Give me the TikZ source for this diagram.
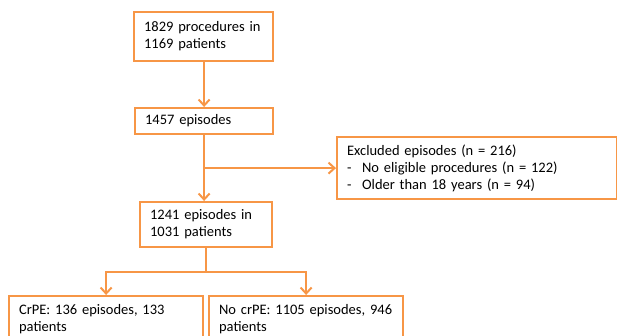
\documentclass[tikz,border=0pt]{standalone}
\usepackage{fontspec}
\setmainfont{Carlito}
\usepackage{tikz}
\usetikzlibrary{calc, positioning, arrows.meta}
\definecolor{flowOrange}{RGB}{247, 150, 70}

\tikzset{
  flowbox/.style={draw=flowOrange, line width=2.2pt, anchor=north west,
                  align=left, inner xsep=10pt, inner ysep=0pt,
                  font=\fontsize{14.5}{17}\selectfont},
  flowline/.style={draw=flowOrange, line width=2.2pt},
  flowarrow/.style={flowline, -{Straight Barb[length=6pt, width=11pt, line width=2pt]}}
}

\begin{document}
\begin{tikzpicture}[x=1pt, y=-1pt]
  % page frame
  \useasboundingbox (0,0) rectangle (617,336);
  \clip (0,0) rectangle (617,336);

  % Boxes
  \node[flowbox, text width=119pt, minimum height=49pt] (proc) at (133,11)
    {1829 procedures in\\1169 patients};
  \node[flowbox, text width=118pt, minimum height=26pt] (epis) at (134,107)
    {1457 episodes};
  \node[flowbox, text width=260pt, minimum height=62pt] (excl) at (336,136)
    {Excluded episodes (n = 216)\\
     \makebox[15pt][l]{-}No eligible procedures (n = 122)\\
     \makebox[15pt][l]{-}Older than 18 years (n = 94)};
  \node[flowbox, text width=112pt, minimum height=45pt] (incl) at (139,201)
    {1241 episodes in\\1031 patients};
  \node[flowbox, text width=174pt, minimum height=47pt] (crpe) at (8,295)
    {CrPE: 136 episodes, 133\\patients};
  \node[flowbox, text width=174pt, minimum height=47pt] (nocrpe) at (208,295)
    {No crPE: 1105 episodes, 946\\patients};

  % Connectors
  \draw[flowarrow] (proc.south -| epis.north) -- (epis.north);
  \draw[flowarrow] (epis.south) -- (epis.south |- incl.north);
  \draw[flowarrow] (epis.south |- excl.west) -- (excl.west);
  \draw[flowline] (incl.south) -- ++(0,24) coordinate (split);
  \draw[flowarrow] (split) -| (crpe.north);
  \draw[flowarrow] (split) -| (nocrpe.north);
\end{tikzpicture}
\end{document}
